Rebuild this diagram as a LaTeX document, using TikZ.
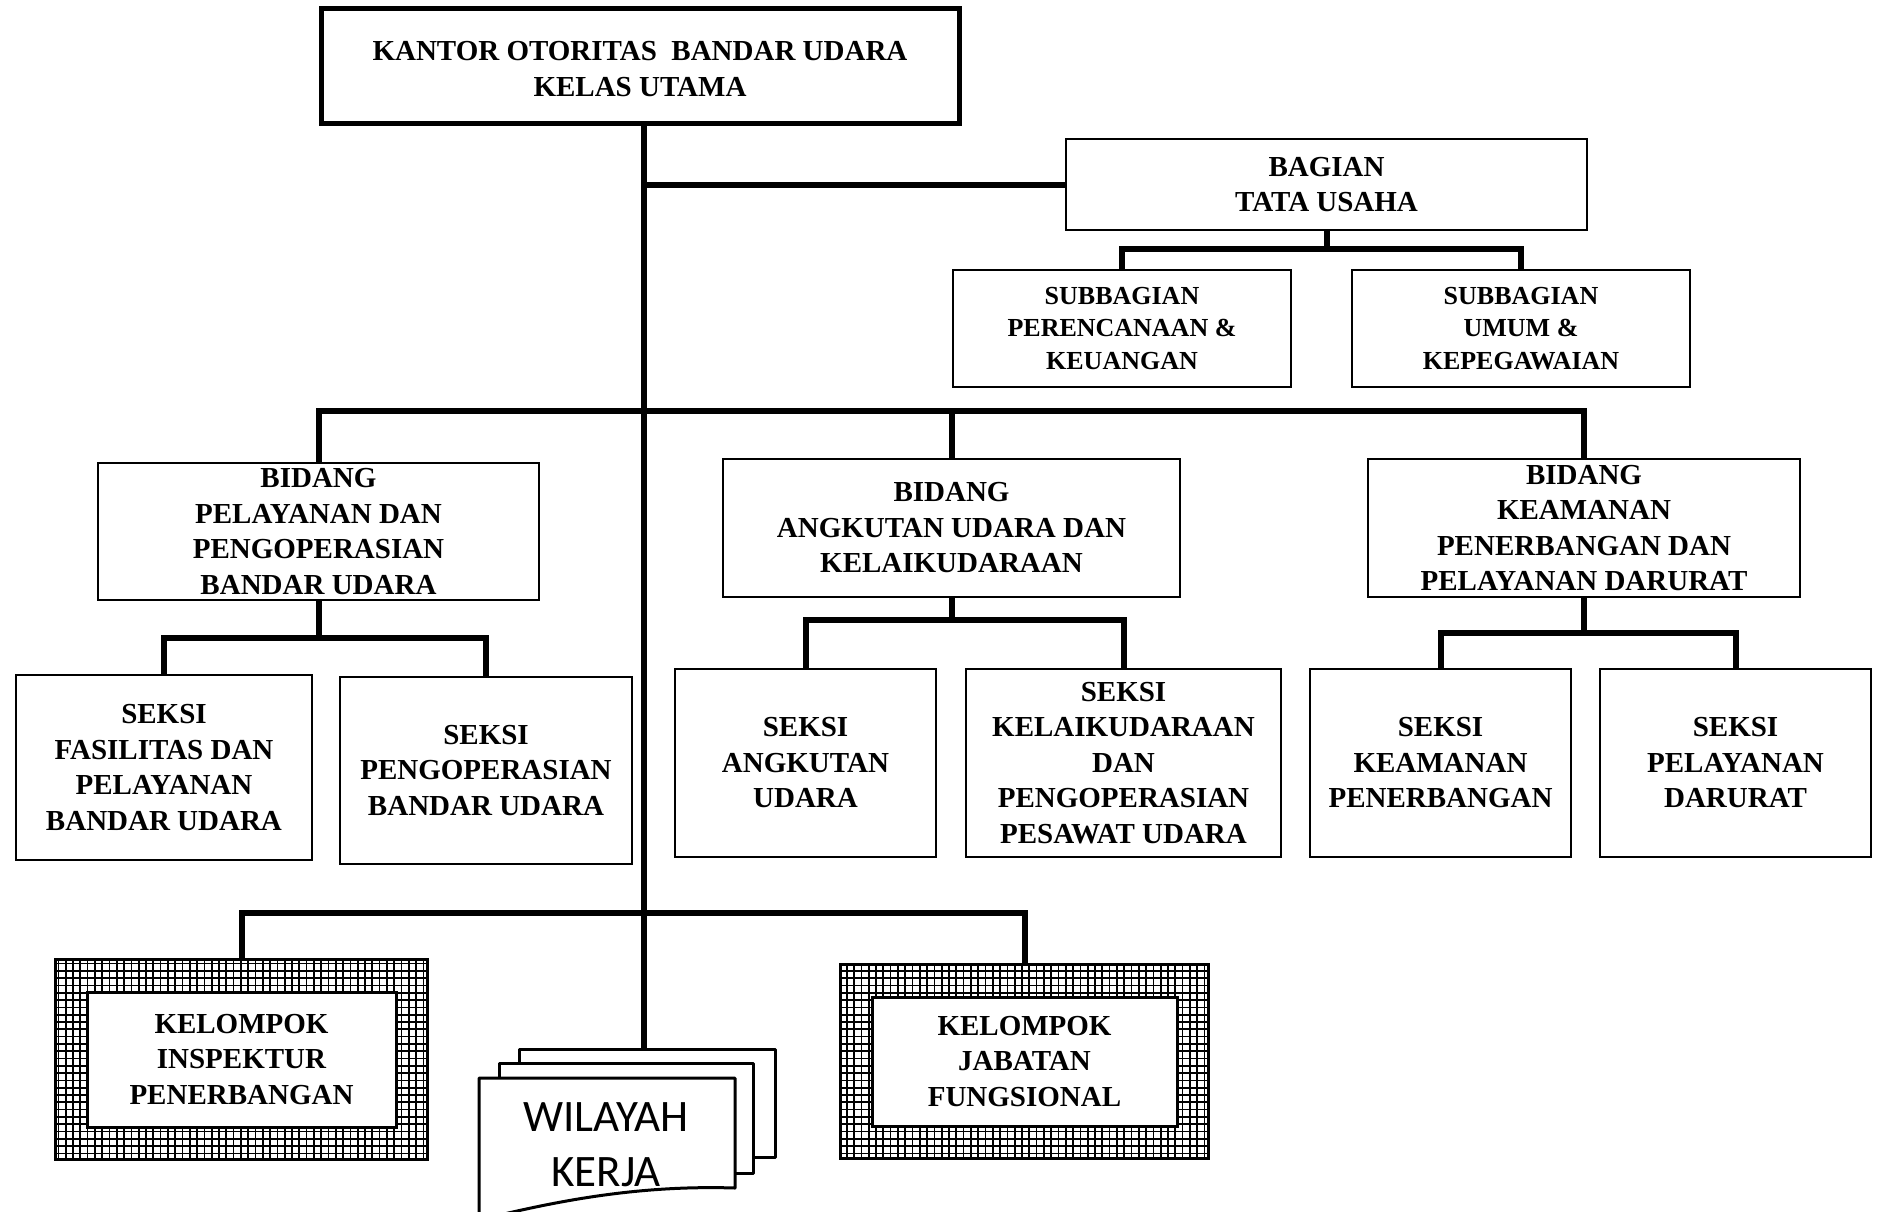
\documentclass[tikz,border=0pt]{standalone}
\usepackage{fontspec}
\setmainfont{Liberation Serif}
\newfontfamily\carlito{Carlito}
\begin{document}
\begin{tikzpicture}[x=1pt,y=-1pt,
  box/.style={draw, line width=2pt, fill=white, align=center, inner sep=0pt,
    font=\bfseries\fontsize{29}{35.5}\selectfont},
  subbox/.style={box, font=\bfseries\fontsize{26}{32.5}\selectfont},
  hatchouter/.style={draw, line width=2pt, fill=white, inner sep=0pt},
  hatchinner/.style={box, line width=3pt},
  gridline/.style={line width=1.7pt},
  conn/.style={line width=6pt},
  page/.style={draw, fill=white, line width=3pt, line join=round}]
\fill[white] (0,0) rectangle (1879,1211);
\useasboundingbox (0,0) rectangle (1879,1211);

% top
\node[box, line width=5pt, minimum width=638pt, minimum height=115pt] (top) at (640,65.5)
  {\rule{0pt}{26.5pt}KANTOR OTORITAS\ \ BANDAR UDARA\\KELAS UTAMA};
% bagian
\node[box, minimum width=521pt, minimum height=91pt] (bagian) at (1326.5,184.5) {BAGIAN\\TATA USAHA};
\node[subbox, minimum width=338pt, minimum height=117pt] (subL) at (1122,328.5) {SUBBAGIAN\\PERENCANAAN \&\\KEUANGAN};
\node[subbox, minimum width=338pt, minimum height=117pt] (subR) at (1521,328.5) {SUBBAGIAN\\UMUM \&\\KEPEGAWAIAN};
% bidang
\node[box, minimum width=441pt, minimum height=137pt] (bidL) at (318.5,531.5) {BIDANG\\PELAYANAN DAN\\PENGOPERASIAN\\BANDAR UDARA};
\node[box, minimum width=457pt, minimum height=138pt] (bidM) at (951.5,528) {BIDANG\\ANGKUTAN UDARA DAN\\KELAIKUDARAAN};
\node[box, minimum width=432pt, minimum height=138pt] (bidR) at (1584,528) {BIDANG\\KEAMANAN\\PENERBANGAN DAN\\PELAYANAN DARURAT};
% seksi
\node[box, minimum width=296pt, minimum height=185pt] (s1) at (164,767.5) {SEKSI\\FASILITAS DAN\\PELAYANAN\\BANDAR UDARA};
\node[box, minimum width=292pt, minimum height=187pt] (s2) at (486,770.5) {SEKSI\\PENGOPERASIAN\\BANDAR UDARA};
\node[box, minimum width=261pt, minimum height=188pt] (s3) at (805.5,763) {SEKSI\\ANGKUTAN\\UDARA};
\node[box, minimum width=315pt, minimum height=188pt] (s4) at (1123.5,763) {SEKSI\\KELAIKUDARAAN\\DAN\\PENGOPERASIAN\\PESAWAT UDARA};
\node[box, minimum width=261pt, minimum height=188pt] (s5) at (1440.5,763) {SEKSI\\KEAMANAN\\PENERBANGAN};
\node[box, minimum width=271pt, minimum height=188pt] (s6) at (1735.5,763) {SEKSI\\PELAYANAN\\DARURAT};
% kelompok
\node[hatchouter, minimum width=371pt, minimum height=199pt] (k1) at (241.5,1059.5) {};
\draw[gridline] (k1.north west) grid[step=7.3pt] (k1.south east);
\draw[line width=2pt] (k1.north west) rectangle (k1.south east);
\node[hatchinner, minimum width=309pt, minimum height=135pt] (k1in) at (k1.center) {KELOMPOK\\INSPEKTUR\\PENERBANGAN};
\node[hatchouter, minimum width=367pt, minimum height=193pt] (k2) at (1024.5,1061.5) {};
\draw[gridline] (k2.north west) grid[step=7.3pt] (k2.south east);
\draw[line width=2pt] (k2.north west) rectangle (k2.south east);
\node[hatchinner, minimum width=305pt, minimum height=129pt] (k2in) at (k2.center) {KELOMPOK\\JABATAN\\FUNGSIONAL};
% wilayah kerja
\begin{scope}
\clip (0,0) rectangle (1879,1211);
\draw[page] (519,1049) rectangle (775,1157);
\draw[page] (499,1063) rectangle (753,1173);
\draw[page] (479,1220) -- (479,1078) -- (735,1078) -- (735,1188)
  .. controls (640,1185) and (560,1200) .. (479,1220) -- cycle;
\end{scope}
\node[font=\carlito\fontsize{45}{55}\selectfont, align=center, inner sep=0pt] (wk) at (606,1145) {WILAYAH\\KERJA};
\coordinate (wktop) at (644,1049);

% connectors
\coordinate (jsub) at (1326.5,249);
\coordinate (jbar) at (644,411);
\coordinate (jL) at (318.5,637.5);
\coordinate (jM) at (951.5,619.5);
\coordinate (jR) at (1584,632.7);
\coordinate (jK) at (644,913);
\draw[conn] (top.south -| wktop) -- (wktop);
\draw[conn] (bagian.west -| wktop) -- (bagian.west);
\draw[conn] (bagian.south) -- (jsub);
\draw[conn] (subL.north) |- (jsub) -| (subR.north);
\draw[conn] (bidL.north) |- (jbar) -| (bidR.north);
\draw[conn] (bidM.north) -- (bidM.north |- jbar);
\draw[conn] (bidL.south) -- (jL);
\draw[conn] (s1.north) |- (jL) -| (s2.north);
\draw[conn] (bidM.south) -- (jM);
\draw[conn] (s3.north) |- (jM) -| (s4.north);
\draw[conn] (bidR.south) -- (jR);
\draw[conn] (s5.north) |- (jR) -| (s6.north);
\draw[conn] (k1.north) |- (jK) -| (k2.north);
\end{tikzpicture}
\end{document}
